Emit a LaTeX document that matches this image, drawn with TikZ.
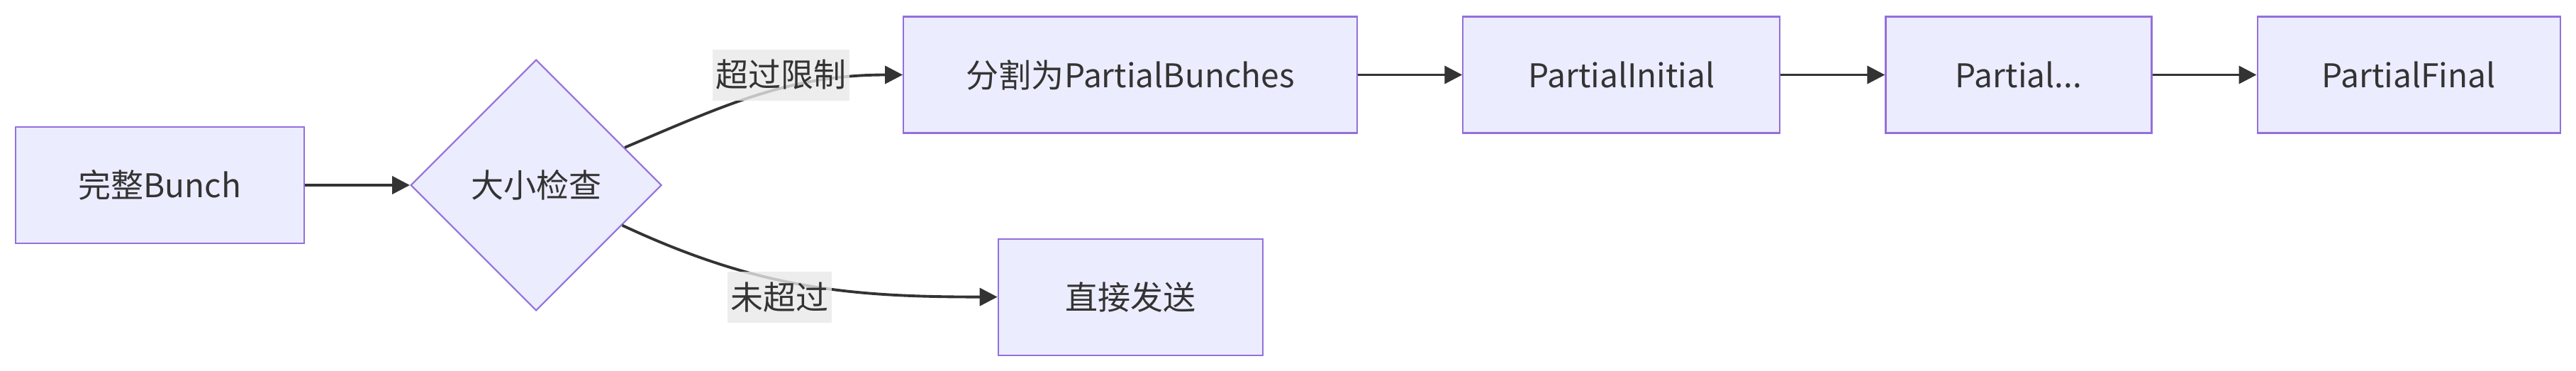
\documentclass[tikz,border=0pt]{standalone}
\usepackage{fontspec}
\setmainfont{Noto Sans CJK SC}
\usepackage{xcolor}
\usetikzlibrary{positioning, shapes.geometric, arrows.meta}

\definecolor{boxfill}{HTML}{ECECFF}
\definecolor{boxline}{HTML}{9370DB}
\definecolor{ink}{HTML}{333333}
\definecolor{lblgray}{HTML}{E8E8E8}

\tikzset{
    box/.style={draw=boxline, fill=boxfill, line width=0.6pt, minimum height=1.64cm,
        text=ink, font=\fontsize{13.1pt}{15pt}\selectfont},
    check/.style={diamond, aspect=1, draw=boxline, fill=boxfill, line width=0.6pt,
        minimum size=3.54cm, inner sep=0pt, text=ink, font=\fontsize{13.1pt}{15pt}\selectfont},
    lbl/.style={fill=lblgray, fill opacity=0.8, text opacity=1, text=ink,
        inner xsep=0.045cm, inner ysep=0pt, minimum height=0.72cm,
        font=\fontsize{13.1pt}{15pt}\selectfont},
    arr/.style={-{Triangle[length=0.25cm, width=0.25cm]}, color=ink, line width=1.1pt}
}

\begin{document}
\begin{tikzpicture}[node distance=1.47cm]
        \useasboundingbox (0,0) rectangle (36.33,-5.22);
        \node[box, minimum width=4.07cm] (bunch) at (2.255,-2.61) {完整Bunch};
        \node[check, right=1.48cm of bunch] (size) {大小检查};
        \node[box, minimum width=6.4cm, right=3.39cm of size, yshift=1.555cm] (split) {分割为PartialBunches};
        \node[box, minimum width=4.47cm, right= of split] (pinit) {PartialInitial};
        \node[box, minimum width=3.75cm, right= of pinit] (pmid) {Partial...};
        \node[box, minimum width=4.27cm, right= of pmid] (pfinal) {PartialFinal};
        \node[box, minimum width=3.73cm, below=1.47cm of split] (direct) {直接发送};
%
        \path[arr]
        (bunch) edge (size)
        (size.23) edge [out=23, in=180] (split)
        (size.335) edge [out=335, in=180] (direct)
        (split) edge (pinit)
        (pinit) edge (pmid)
        (pmid) edge (pfinal);
%
        \node[lbl, left=0.74cm of split] (over) {超过限制};
        \node[lbl, left=2.33cm of direct] (under) {未超过};
\end{tikzpicture}
\end{document}
